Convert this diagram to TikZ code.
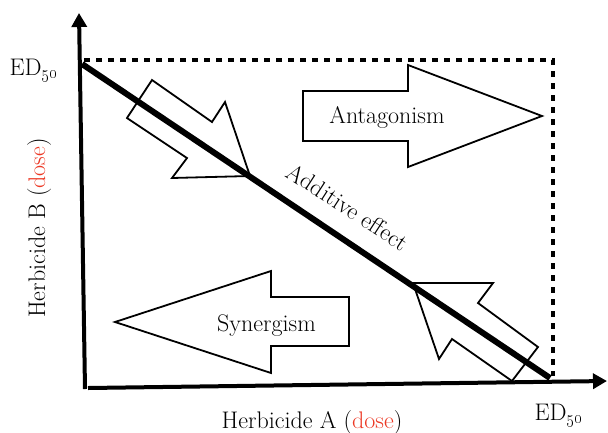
\documentclass[tikz,border=0pt]{standalone}
\usepackage{xcolor}
\usetikzlibrary{arrows.meta}
\definecolor{dosered}{RGB}{236,56,36}

\begin{document}
\begin{tikzpicture}[x=1pt, y=-1pt,
  axis/.style={line width=4pt, -{Triangle[length=14pt, width=15pt]}},
  block/.style={draw, line width=1.8pt, fill=white, line join=miter},
  txt/.style={font=\fontsize{24}{28}\selectfont, inner sep=0pt}]

\useasboundingbox (0,0) rectangle (608,432);

% ED50 box
\draw [line width=4.5pt, dash pattern=on 5.5pt off 6.5pt] (84,60) -- (553,60) -- (553,376);

% Antagonism
\draw [block] (303,91) -- (408,91) -- (408,65) -- (542,116) -- (408,167) -- (408,141) -- (303,141) -- cycle;

% Synergism
\draw [block] (115,322) -- (271,271) -- (271,297) -- (349,297) -- (349,346) -- (271,346) -- (271,373) -- cycle;

% Towards the isobole
\draw [block] (152,80) -- (212,122) -- (225,102) -- (250,176) -- (172,178) -- (187,158) -- (127,118) -- cycle;
\draw [block] (413,283) -- (493,283) -- (478,303) -- (538,347) -- (512,381) -- (452,339) -- (439,359) -- cycle;

% Additive effect
\draw [line width=6pt] (82,64) -- (550,378);

% Axes
\draw [axis] (85,389) -- (79,13);
\draw [axis] (88,388) -- (607,381);

%==============================================================================================

% Naming
\node [txt, anchor=base] (antag) at (387,123) {Antagonism};
\node [txt, anchor=base] (syn) at (266.5,331) {Synergism};
\node [txt, rotate=-33] (add) at (348,207) {Additive effect};

% Axis labels
\node [txt, anchor=base] (xlabel) at (312,428) {Herbicide A (\textcolor{dosered}{dose})};
\node [txt, anchor=base, rotate=90] (ylabel) at (45,228) {Herbicide B (\textcolor{dosered}{dose})};
\node [txt, anchor=base] (edA) at (559,420) {ED\textsubscript{\oldstylenums{50}}};
\node [txt, anchor=base] (edB) at (34,75) {ED\textsubscript{\oldstylenums{50}}};

\end{tikzpicture}
\end{document}
